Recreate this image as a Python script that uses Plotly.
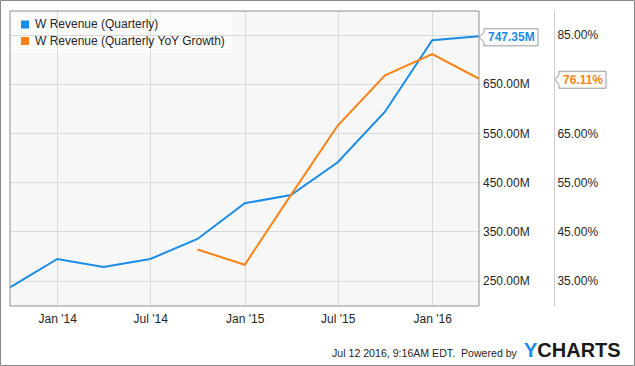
import plotly.graph_objects as go

# ---------------- data ----------------
quarters = ["2013-09-30", "2013-12-31", "2014-03-31", "2014-06-30", "2014-09-30",
            "2014-12-31", "2015-03-31", "2015-06-30", "2015-09-30", "2015-12-31",
            "2016-03-31"]
revenue_m = [237.2, 294.7, 278.5, 294.7, 335.4, 408.0, 424.8, 491.3, 594.1, 739.2, 747.35]

growth_dates = ["2014-09-30", "2014-12-31", "2015-03-31", "2015-06-30", "2015-09-30",
                "2015-12-31", "2016-03-31"]
growth_pct = [41.4, 38.3, 52.5, 66.6, 76.8, 81.1, 76.11]

series_names = ["W Revenue (Quarterly)", "W Revenue (Quarterly YoY Growth)"]

x_tickvals = ["2014-01-01", "2014-07-01", "2015-01-01", "2015-07-01", "2016-01-01"]
x_ticktext = ["Jan '14", "Jul '14", "Jan '15", "Jul '15", "Jan '16"]
rev_tickvals = [250, 350, 450, 550, 650, 750]
rev_ticktext = ["250.00M", "350.00M", "450.00M", "550.00M", "650.00M", ""]
pct_tickvals = [35, 45, 55, 65, 75, 85]
pct_ticktext = ["35.00%", "45.00%", "55.00%", "65.00%", "", "85.00%"]

footer_text = "Jul 12 2016, 9:16AM EDT.  Powered by"

# ---------------- style / geometry ----------------
BLUE = "#1a8ce6"
ORANGE = "#fb8214"
TEXT = "#262626"
FONT = "Liberation Sans, Arial, sans-serif"

W, H = 635, 366
L, T, R_MARGIN, B_MARGIN = 10, 11, 15, 60
PW = W - L - R_MARGIN          # plot area width in px
PH = H - T - B_MARGIN          # plot area height in px
BOTTOM = T + PH
PLOT_RIGHT = 479
PCT_AXIS_X = 554
XD = (PLOT_RIGHT - L) / PW

REV_RANGE = [199.2, 798.8]
PCT_RANGE = [29.92, 89.88]


def px_x(p):
    return (p - L) / PW


def px_y(p):
    return (BOTTOM - p) / PH


def rev_py(v):
    return T + (REV_RANGE[1] - v) / (REV_RANGE[1] - REV_RANGE[0]) * PH


def pct_py(v):
    return T + (PCT_RANGE[1] - v) / (PCT_RANGE[1] - PCT_RANGE[0]) * PH


fig = go.Figure()
fig.add_trace(go.Scatter(x=quarters, y=revenue_m, mode="lines", name=series_names[0],
                         line=dict(color=BLUE, width=2), yaxis="y", showlegend=False,
                         hoverinfo="skip"))
fig.add_trace(go.Scatter(x=growth_dates, y=growth_pct, mode="lines", name=series_names[1],
                         line=dict(color=ORANGE, width=2), yaxis="y2", showlegend=False,
                         hoverinfo="skip"))

shapes = []
# plot background
shapes.append(dict(type="rect", xref="paper", yref="paper", x0=0, x1=XD, y0=0, y1=1,
                   fillcolor="#f7f7f7", line=dict(width=0), layer="below"))
# plot border
shapes.append(dict(type="rect", xref="paper", yref="paper", x0=0, x1=XD, y0=0, y1=1,
                   fillcolor="rgba(0,0,0,0)", line=dict(color="#8f8f8f", width=1), layer="above"))
# outer frame
shapes.append(dict(type="rect", xref="paper", yref="paper",
                   x0=px_x(0.5), x1=px_x(W - 0.5), y0=px_y(H - 0.5), y1=px_y(0.5),
                   fillcolor="rgba(0,0,0,0)", line=dict(color="#8a8a8a", width=1), layer="above"))
# legend box
shapes.append(dict(type="rect", xref="paper", yref="paper",
                   x0=px_x(10.5), x1=px_x(232), y0=px_y(53), y1=px_y(11.5),
                   fillcolor="rgba(255,255,255,0.65)", line=dict(width=0), layer="between"))
for i, c in enumerate([BLUE, ORANGE]):
    y0 = 20.5 + i * 16.5
    shapes.append(dict(type="rect", xref="paper", yref="paper",
                       x0=px_x(21), x1=px_x(29), y0=px_y(y0 + 8), y1=px_y(y0),
                       fillcolor=c, line=dict(width=0), layer="above"))


def badge_path(tip_x, box_x0, box_x1, cy, half_h=8.5, notch=5):
    pts = [(box_x0, cy - half_h), (box_x1, cy - half_h), (box_x1, cy + half_h),
           (box_x0, cy + half_h), (box_x0, cy + notch), (tip_x, cy), (box_x0, cy - notch)]
    return "M " + " L ".join(f"{px_x(x):.5f},{px_y(y):.5f}" for x, y in pts) + " Z"


rev_cy = rev_py(revenue_m[-1]) + 1
pct_cy = pct_py(growth_pct[-1]) + 1
shapes.append(dict(type="path", xref="paper", yref="paper",
                   path=badge_path(PLOT_RIGHT, 484, 538, rev_cy),
                   fillcolor="white", line=dict(color="#9a9a9a", width=1), layer="above"))
shapes.append(dict(type="path", xref="paper", yref="paper",
                   path=badge_path(PCT_AXIS_X + 1, 559, 606, pct_cy),
                   fillcolor="white", line=dict(color="#9a9a9a", width=1), layer="above"))

annotations = []
for i, name in enumerate(series_names):
    annotations.append(dict(text=name, xref="paper", yref="paper", x=px_x(32.5),
                            y=px_y(24.5 + i * 16.5), xanchor="left", yanchor="middle",
                            showarrow=False, font=dict(family=FONT, size=12, color=TEXT)))
annotations.append(dict(text=f"<b>{revenue_m[-1]:.2f}M</b>", xref="paper", yref="paper",
                        x=px_x(511), y=px_y(rev_cy), xanchor="center", yanchor="middle",
                        showarrow=False, font=dict(family=FONT, size=12, color=BLUE)))
annotations.append(dict(text=f"<b>{growth_pct[-1]:.2f}%</b>", xref="paper", yref="paper",
                        x=px_x(582.5), y=px_y(pct_cy), xanchor="center", yanchor="middle",
                        showarrow=False, font=dict(family=FONT, size=12, color=ORANGE)))
annotations.append(dict(text=footer_text, xref="paper", yref="paper", x=px_x(519.5),
                        y=px_y(353), xanchor="right", yanchor="middle", showarrow=False,
                        font=dict(family=FONT, size=10.6, color=TEXT)))
annotations.append(dict(text=f"<b><span style='color:{BLUE}'>Y</span>CHARTS</b>",
                        xref="paper", yref="paper", x=px_x(521.5), y=px_y(350),
                        xanchor="left", yanchor="middle", showarrow=False,
                        font=dict(family=FONT, size=20, color="#1a1a1a")))

fig.update_layout(
    template="none",
    width=W, height=H,
    margin=dict(l=L, r=R_MARGIN, t=T, b=B_MARGIN, pad=0),
    paper_bgcolor="white", plot_bgcolor="white",
    font=dict(family=FONT, size=12, color=TEXT),
    showlegend=False,
    hovermode=False,
    xaxis=dict(type="date", domain=[0, XD], range=[quarters[0], quarters[-1]],
               tickvals=x_tickvals, ticktext=x_ticktext, ticks="", showline=False,
               showgrid=True, gridcolor="#d9d9d9", gridwidth=1, zeroline=False,
               automargin=False, tickfont=dict(family=FONT, size=12, color=TEXT),
               ticklabelstandoff=4),
    yaxis=dict(range=REV_RANGE, side="right", anchor="x", tickvals=rev_tickvals,
               ticktext=rev_ticktext, ticks="", showline=False, showgrid=True,
               gridcolor="#d9d9d9", gridwidth=1, zeroline=False, automargin=False,
               tickfont=dict(family=FONT, size=12, color=TEXT), ticklabelstandoff=3),
    yaxis2=dict(range=PCT_RANGE, overlaying="y", side="right", anchor="free",
                position=px_x(PCT_AXIS_X), tickvals=pct_tickvals, ticktext=pct_ticktext,
                ticks="", showline=True, linecolor="#cccccc", linewidth=1, showgrid=False,
                zeroline=False, automargin=False,
                tickfont=dict(family=FONT, size=12, color=TEXT), ticklabelstandoff=0),
    shapes=shapes,
    annotations=annotations,
)

fig.write_html("out.html", config={"displayModeBar": False, "staticPlot": True},
               post_script="document.body.style.margin='0';document.body.style.overflow='hidden';")
